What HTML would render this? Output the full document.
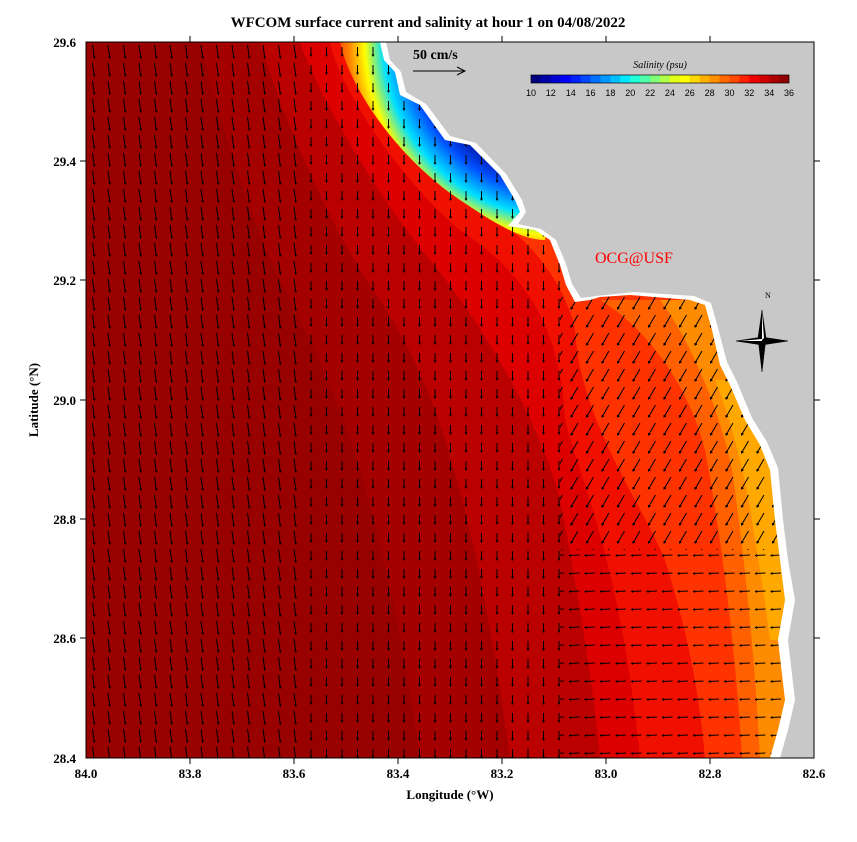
<!DOCTYPE html>
<html><head><meta charset="utf-8"><style>
body{margin:0;background:#fff;}
svg{display:block;font-family:"Liberation Serif",serif;}
</style></head><body>
<svg width="857" height="842" viewBox="0 0 857 842" xmlns="http://www.w3.org/2000/svg">
<defs>
<clipPath id="pc"><rect x="86" y="42" width="728" height="716"/></clipPath>
<radialGradient id="pl" gradientUnits="userSpaceOnUse" cx="560" cy="40" r="230">
<stop offset="0" stop-color="#000080"/>
<stop offset="0.58" stop-color="#0010a0"/>
<stop offset="0.67" stop-color="#0050ff"/>
<stop offset="0.77" stop-color="#00e0ff"/>
<stop offset="0.85" stop-color="#ffff00"/>
<stop offset="0.92" stop-color="#ff8000"/>
<stop offset="1" stop-color="#ff2000"/>
</radialGradient>
<pattern id="pS" patternUnits="userSpaceOnUse" x="86" y="42" width="15.5" height="18">
<path d="M6.5,3L8.3,16M7.4,14.6L8.3,16L9.2,14.8" stroke="#000" stroke-width="1" fill="none"/>
</pattern>
<pattern id="pS2" patternUnits="userSpaceOnUse" x="86" y="42" width="15.5" height="18">
<path d="M8,5L8,14M7,12.5L8,14L9,12.5" stroke="#000" stroke-width="1" fill="none"/>
</pattern>
<pattern id="pSW" patternUnits="userSpaceOnUse" x="86" y="42" width="15.5" height="18">
<path d="M11.5,3L4.5,15M4.5,13L4.5,15L6.5,14" stroke="#000" stroke-width="1" fill="none"/>
</pattern>
<pattern id="pW" patternUnits="userSpaceOnUse" x="86" y="42" width="15.5" height="18">
<path d="M13,9L3,9.5M4.5,8.5L3,9.5L4.5,10.5" stroke="#000" stroke-width="1" fill="none"/>
</pattern>
</defs>
<g clip-path="url(#pc)">
<rect x="86" y="42" width="728" height="716" fill="#990000"/>
<path d="M200,42 C215,100 240,200 290,300 C330,380 380,480 420,758 L814,758 L814,42Z" fill="#a50000"/>
<path d="M260,42 C280,110 330,230 380,300 C420,360 470,460 510,758 L814,758 L814,42Z" fill="#bb0000"/>
<path d="M300,42 C320,100 380,200 430,260 C480,320 540,420 560,500 C580,600 595,700 600,758 L814,758 L814,42Z" fill="#dd0000"/>
<path d="M330,42 C340,90 400,180 460,230 C520,270 560,320 565,420 C580,480 620,560 640,758 L814,758 L814,42Z" fill="#f01000"/>
<path d="M350,42 C355,80 420,170 480,210 C540,240 570,300 575,330 C580,420 640,500 665,560 C690,640 700,700 705,758 L814,758 L814,42Z" fill="#ff3300"/>
<path d="M600,300 C650,330 690,390 705,450 C720,530 735,640 742,758 L814,758 L814,300Z" fill="#ff6000"/>
<path d="M660,300 C690,340 720,410 732,470 C745,560 755,660 760,758 L814,758 L814,300Z" fill="#ff8c00"/>
<path d="M715,380 C735,430 748,490 755,540 C762,580 766,610 770,640 L800,640 L800,380Z" fill="#ffa800"/>
<path d="M340,42 C350,90 400,160 460,200 C490,220 520,240 545,240 L560,40Z" fill="url(#pl)"/>
<path d="M86,42H300V758H86Z" fill="url(#pS)"/>
<path d="M300,42H814V290H560V758H300Z" fill="url(#pS2)"/>
<rect x="560" y="290" width="254" height="260" fill="url(#pSW)"/>
<rect x="560" y="550" width="254" height="208" fill="url(#pW)"/>
<path d="M380,42 L384,60 L395,72 L400,95 L420,105 L445,140 L470,145 L500,175 L515,200 L520,212 L508,226 L535,230 L550,240 L560,265 L566,285 L575,302 L590,300 L600,297 L630,295 L690,300 L705,305 L712,330 L720,365 L730,385 L745,420 L760,445 L770,470 L775,520 L780,560 L785,600 L778,640 L785,700 L778,730 L770,758 L814,758 L814,42Z" fill="#fff"/>
<path d="M386,42 L390,60 L401,72 L406,92 L426,104 L450,136 L476,143 L506,174 L522,200 L526,212 L518,224 L541,229 L556,240 L566,264 L572,284 L581,298 L596,296 L634,292 L694,296 L711,303 L718,328 L727,362 L737,382 L752,418 L767,442 L778,468 L783,520 L788,560 L795,600 L788,640 L795,700 L788,730 L780,758 L814,758 L814,42Z" fill="#c8c8c8"/>
</g>
<rect x="86" y="42" width="728" height="716" fill="none" stroke="#000" stroke-width="1"/>
<g stroke="#000" stroke-width="1">
<line x1="190" y1="42" x2="190" y2="36"/><line x1="294" y1="42" x2="294" y2="36"/><line x1="398" y1="42" x2="398" y2="36"/><line x1="502" y1="42" x2="502" y2="36"/><line x1="606" y1="42" x2="606" y2="36"/><line x1="710" y1="42" x2="710" y2="36"/>
<line x1="190" y1="758" x2="190" y2="764"/><line x1="294" y1="758" x2="294" y2="764"/><line x1="398" y1="758" x2="398" y2="764"/><line x1="502" y1="758" x2="502" y2="764"/><line x1="606" y1="758" x2="606" y2="764"/><line x1="710" y1="758" x2="710" y2="764"/>
<line x1="80" y1="161" x2="86" y2="161"/><line x1="80" y1="280" x2="86" y2="280"/><line x1="80" y1="400" x2="86" y2="400"/><line x1="80" y1="519" x2="86" y2="519"/><line x1="80" y1="638" x2="86" y2="638"/>
<line x1="814" y1="161" x2="820" y2="161"/><line x1="814" y1="280" x2="820" y2="280"/><line x1="814" y1="400" x2="820" y2="400"/><line x1="814" y1="519" x2="820" y2="519"/><line x1="814" y1="638" x2="820" y2="638"/>
</g>
<g font-size="13" font-weight="bold" fill="#000">
<text x="428" y="27" text-anchor="middle" font-size="15">WFCOM surface current and salinity at hour 1 on 04/08/2022</text>
<text x="86" y="778" text-anchor="middle">84.0</text><text x="190" y="778" text-anchor="middle">83.8</text><text x="294" y="778" text-anchor="middle">83.6</text><text x="398" y="778" text-anchor="middle">83.4</text><text x="502" y="778" text-anchor="middle">83.2</text><text x="606" y="778" text-anchor="middle">83.0</text><text x="710" y="778" text-anchor="middle">82.8</text><text x="814" y="778" text-anchor="middle">82.6</text>
<text x="450" y="799" text-anchor="middle">Longitude (°W)</text>
<text x="76" y="47" text-anchor="end">29.6</text><text x="76" y="166" text-anchor="end">29.4</text><text x="76" y="285" text-anchor="end">29.2</text><text x="76" y="405" text-anchor="end">29.0</text><text x="76" y="524" text-anchor="end">28.8</text><text x="76" y="643" text-anchor="end">28.6</text><text x="76" y="763" text-anchor="end">28.4</text>
<text transform="translate(38,400) rotate(-90)" text-anchor="middle">Latitude (°N)</text>
<text x="413" y="59" font-size="14">50 cm/s</text>
</g>
<g stroke="#000" fill="none"><line x1="413" y1="71" x2="465" y2="71"/><polyline points="457,67 465,71 457,75"/></g>
<text x="595" y="263" fill="#ff0000" font-size="16">OCG@USF</text>
<text x="660" y="68" font-size="10" font-style="italic" text-anchor="middle">Salinity (psu)</text>
<g>
<rect x="531" y="75" width="10.3" height="8" fill="#000080"/>
<rect x="540.9" y="75" width="10.3" height="8" fill="#0000a8"/>
<rect x="550.8" y="75" width="10.3" height="8" fill="#0000d0"/>
<rect x="560.8" y="75" width="10.3" height="8" fill="#0000ff"/>
<rect x="570.7" y="75" width="10.3" height="8" fill="#0020ff"/>
<rect x="580.6" y="75" width="10.3" height="8" fill="#0048ff"/>
<rect x="590.5" y="75" width="10.3" height="8" fill="#0070ff"/>
<rect x="600.5" y="75" width="10.3" height="8" fill="#0098ff"/>
<rect x="610.4" y="75" width="10.3" height="8" fill="#00c0ff"/>
<rect x="620.3" y="75" width="10.3" height="8" fill="#00e8ff"/>
<rect x="630.2" y="75" width="10.3" height="8" fill="#20ffd8"/>
<rect x="640.2" y="75" width="10.3" height="8" fill="#50ffa8"/>
<rect x="650.1" y="75" width="10.3" height="8" fill="#80ff78"/>
<rect x="660" y="75" width="10.3" height="8" fill="#b0ff48"/>
<rect x="669.9" y="75" width="10.3" height="8" fill="#e0ff18"/>
<rect x="679.8" y="75" width="10.3" height="8" fill="#ffff00"/>
<rect x="689.8" y="75" width="10.3" height="8" fill="#ffd800"/>
<rect x="699.7" y="75" width="10.3" height="8" fill="#ffb000"/>
<rect x="709.6" y="75" width="10.3" height="8" fill="#ff9000"/>
<rect x="719.5" y="75" width="10.3" height="8" fill="#ff6800"/>
<rect x="729.5" y="75" width="10.3" height="8" fill="#ff4800"/>
<rect x="739.4" y="75" width="10.3" height="8" fill="#ff2000"/>
<rect x="749.3" y="75" width="10.3" height="8" fill="#f00000"/>
<rect x="759.2" y="75" width="10.3" height="8" fill="#d00000"/>
<rect x="769.2" y="75" width="10.3" height="8" fill="#b00000"/>
<rect x="779.1" y="75" width="9.9" height="8" fill="#900000"/>
<rect x="531" y="75" width="258" height="8" fill="none" stroke="#000" stroke-width="0.7"/>
</g>
<g font-size="9" font-family="Liberation Sans,sans-serif" text-anchor="middle">
<text x="531" y="96">10</text><text x="550.8" y="96">12</text><text x="570.7" y="96">14</text><text x="590.5" y="96">16</text><text x="610.4" y="96">18</text><text x="630.2" y="96">20</text><text x="650.1" y="96">22</text><text x="669.9" y="96">24</text><text x="689.8" y="96">26</text><text x="709.6" y="96">28</text><text x="729.5" y="96">30</text><text x="749.3" y="96">32</text><text x="769.2" y="96">34</text><text x="789" y="96">36</text>
</g>
<text x="765" y="298" font-size="8">N</text>
<g fill="#000" stroke="#000" stroke-width="0.5">
<polygon points="762,310 766,338 762,372 758,338"/>
<polygon points="736,341 762,337 788,341 762,345"/>
</g>
<g fill="#fff"><polygon points="762,312 764,338 762,340"/><polygon points="740,341 762,339 762,341"/></g>
</svg>
</body></html>
